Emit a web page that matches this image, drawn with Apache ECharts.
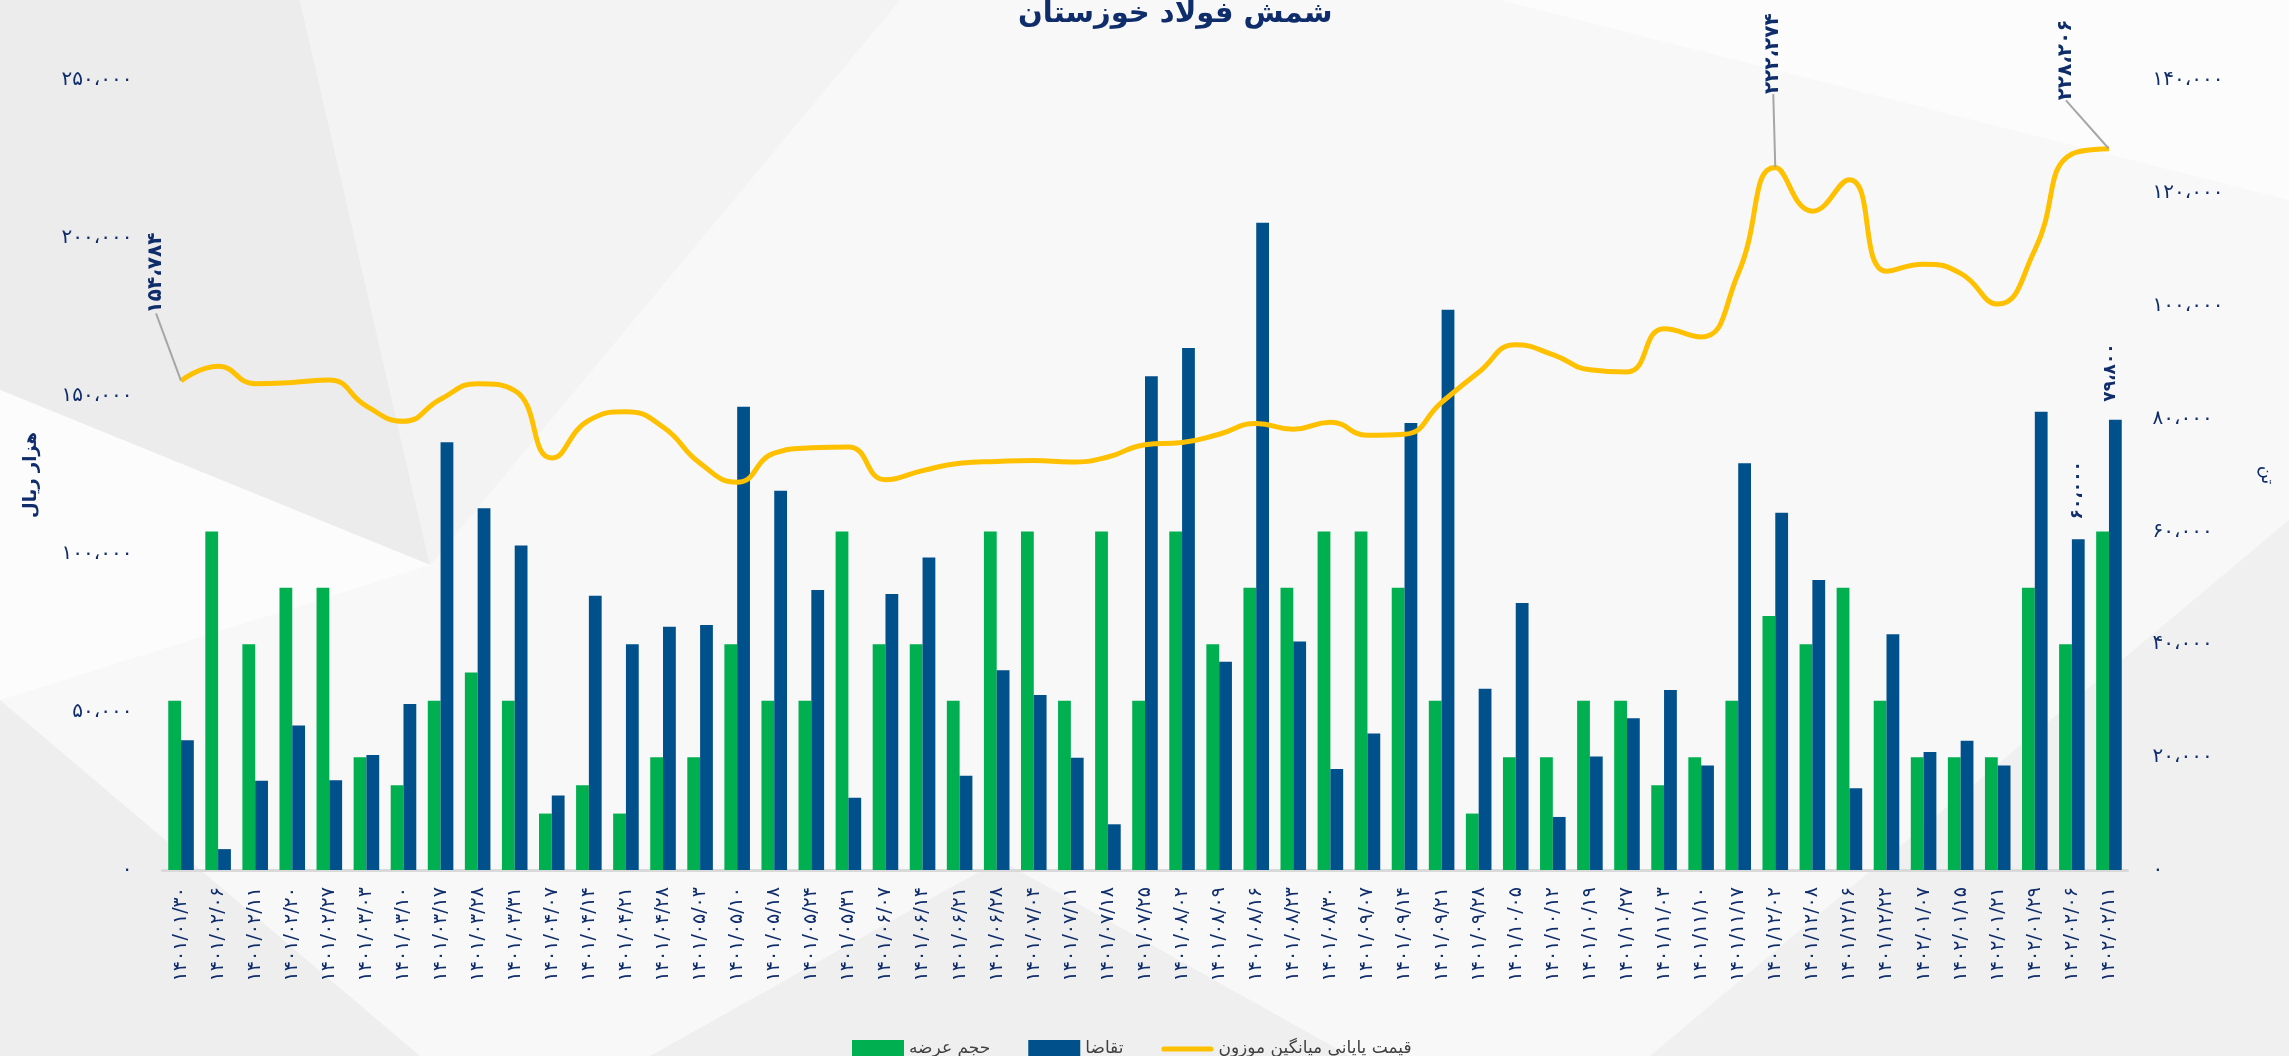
<!DOCTYPE html>
<html>
<head>
<meta charset="utf-8">
<script src="https://cdn.jsdelivr.net/npm/echarts@6/dist/echarts.min.js"></script>
<style>
  html, body { margin: 0; padding: 0; background: #f7f7f7; }
  #chart { width: 2289px; height: 1056px; }
</style>
</head>
<body>
<div id="chart"></div>
<script>
// تاریخ‌های معاملات
const categories = [
  '۱۴۰۱/۰۱/۳۰', '۱۴۰۱/۰۲/۰۶', '۱۴۰۱/۰۲/۱۱', '۱۴۰۱/۰۲/۲۰', '۱۴۰۱/۰۲/۲۷', '۱۴۰۱/۰۳/۰۳',
  '۱۴۰۱/۰۳/۱۰', '۱۴۰۱/۰۳/۱۷', '۱۴۰۱/۰۳/۲۸', '۱۴۰۱/۰۳/۳۱', '۱۴۰۱/۰۴/۰۷', '۱۴۰۱/۰۴/۱۴',
  '۱۴۰۱/۰۴/۲۱', '۱۴۰۱/۰۴/۲۸', '۱۴۰۱/۰۵/۰۳', '۱۴۰۱/۰۵/۱۰', '۱۴۰۱/۰۵/۱۸', '۱۴۰۱/۰۵/۲۴',
  '۱۴۰۱/۰۵/۳۱', '۱۴۰۱/۰۶/۰۷', '۱۴۰۱/۰۶/۱۴', '۱۴۰۱/۰۶/۲۱', '۱۴۰۱/۰۶/۲۸', '۱۴۰۱/۰۷/۰۴',
  '۱۴۰۱/۰۷/۱۱', '۱۴۰۱/۰۷/۱۸', '۱۴۰۱/۰۷/۲۵', '۱۴۰۱/۰۸/۰۲', '۱۴۰۱/۰۸/۰۹', '۱۴۰۱/۰۸/۱۶',
  '۱۴۰۱/۰۸/۲۳', '۱۴۰۱/۰۸/۳۰', '۱۴۰۱/۰۹/۰۷', '۱۴۰۱/۰۹/۱۴', '۱۴۰۱/۰۹/۲۱', '۱۴۰۱/۰۹/۲۸',
  '۱۴۰۱/۱۰/۰۵', '۱۴۰۱/۱۰/۱۲', '۱۴۰۱/۱۰/۱۹', '۱۴۰۱/۱۰/۲۷', '۱۴۰۱/۱۱/۰۳', '۱۴۰۱/۱۱/۱۰',
  '۱۴۰۱/۱۱/۱۷', '۱۴۰۱/۱۲/۰۲', '۱۴۰۱/۱۲/۰۸', '۱۴۰۱/۱۲/۱۶', '۱۴۰۱/۱۲/۲۲', '۱۴۰۲/۰۱/۰۷',
  '۱۴۰۲/۰۱/۱۵', '۱۴۰۲/۰۱/۲۱', '۱۴۰۲/۰۱/۲۹', '۱۴۰۲/۰۲/۰۶', '۱۴۰۲/۰۲/۱۱'
];

// حجم عرضه (تن)
const supply = [
  30000, 60000, 40000, 50000, 50000, 20000, 15000, 30000, 35000, 30000, 10000, 15000,
  10000, 20000, 20000, 40000, 30000, 30000, 60000, 40000, 40000, 30000, 60000, 60000,
  30000, 60000, 30000, 60000, 40000, 50000, 50000, 60000, 60000, 50000, 30000, 10000,
  20000, 20000, 30000, 30000, 15000, 20000, 30000, 45000, 40000, 50000, 30000, 20000,
  20000, 20000, 50000, 40000, 60000
];

// تقاضا (تن)
const demand = [
  23000, 3700, 15800, 25600, 15900, 20400, 29400, 75800, 64100, 57500, 13200, 48600,
  40000, 43100, 43400, 82100, 67200, 49600, 12800, 48900, 55400, 16700, 35400, 31000,
  19900, 8100, 87500, 92500, 36900, 114700, 40500, 17900, 24200, 79200, 99300, 32100,
  47300, 9400, 20100, 26900, 31900, 18500, 72100, 63300, 51400, 14500, 41800, 20900,
  22900, 18500, 81200, 58600, 79800
];

// قیمت پایانی میانگین موزون (هزار ریال)
const price = [
  154784, 159400, 153900, 154300, 155100, 146800, 142000, 149000, 153900, 151700, 130400, 142300,
  145000, 140200, 128700, 122700, 131900, 133600, 133900, 123500, 126400, 128700, 129300, 129600,
  129100, 130700, 134600, 135300, 137900, 141300, 139500, 141700, 137600, 137900, 148000, 157500,
  166200, 163100, 158300, 157600, 171300, 168700, 188800, 222274, 208500, 218400, 189500, 191700,
  188800, 179100, 196200, 226600, 228206
];

// محورها
const priceAxis = { min: 0, max: 250000, interval: 50000 };
const tonAxis = { min: 0, max: 140000, interval: 20000 };

// نقاطی که برچسب دارند
const priceLabelIdx = [0, 43, 52];
const supplyLabelIdx = [52];
const demandLabelIdx = [52];

const NAVY = '#0F2D6B';
const FONT = '"DejaVu Sans", sans-serif';
const faDigits = '۰۱۲۳۴۵۶۷۸۹';

function fa(n) {
  return String(Math.round(n))
    .replace(/\B(?=(\d{3})+(?!\d))/g, '،')
    .replace(/\d/g, (d) => faDigits[d]);
}

function withLabels(values, idx) {
  return values.map((v, i) => (idx.includes(i) ? { value: v, label: { show: true } } : v));
}

// برچسب‌ها ۹۰ درجه چرخیده‌اند و dx/dy در قاب چرخیده اعمال می‌شود:
// جابجایی روی صفحه (sx, sy) => { dx: -sy, dy: sx }
function shift(sx, sy) {
  return { dx: -sy, dy: sx };
}

const chart = echarts.init(document.getElementById('chart'));

const option = {
  animation: false,
  backgroundColor: '#f8f8f8',
  textStyle: { fontFamily: FONT },
  graphic: [
    { type: 'polygon', z: -10, shape: { points: [[0, 0], [300, 0], [430, 565], [0, 390]] }, style: { fill: '#ececec' } },
    { type: 'polygon', z: -10, shape: { points: [[300, 0], [900, 0], [430, 565]] }, style: { fill: '#f3f3f3' } },
    { type: 'polygon', z: -10, shape: { points: [[0, 390], [430, 565], [0, 700]] }, style: { fill: '#fcfcfc' } },
    { type: 'polygon', z: -10, shape: { points: [[0, 700], [420, 1056], [0, 1056]] }, style: { fill: '#eeeeee' } },
    { type: 'polygon', z: -10, shape: { points: [[1000, 860], [1350, 1056], [650, 1056]] }, style: { fill: '#efefef' } },
    { type: 'polygon', z: -10, shape: { points: [[1650, 1056], [2289, 520], [2289, 1056]] }, style: { fill: '#f0f0f0' } },
    { type: 'polygon', z: -10, shape: { points: [[1500, 0], [2289, 0], [2289, 200]] }, style: { fill: '#fcfcfc' } }
  ],
  title: {
    text: 'شمش فولاد خوزستان',
    left: 1013,
    top: -5,
    textStyle: { color: NAVY, fontSize: 29, fontWeight: 'bold', fontFamily: FONT }
  },
  legend: {
    left: 847,
    top: 1035,
    itemWidth: 52,
    itemHeight: 18,
    itemGap: 38,
    textStyle: { color: '#404040', fontSize: 17, fontFamily: FONT },
    data: [
      { name: 'حجم عرضه', icon: 'rect' },
      { name: 'تقاضا', icon: 'rect' },
      { name: 'قیمت پایانی میانگین موزون', icon: 'path://M3,0H57A3,3 0 0 1 57,6H3A3,3 0 0 1 3,0Z' }
    ]
  },
  grid: { left: 162.5, right: 161.5, top: 80, bottom: 186 },
  xAxis: {
    type: 'category',
    data: categories,
    axisTick: { show: false },
    axisLine: { lineStyle: { color: '#d9d9d9', width: 3 } },
    axisLabel: { interval: 0, rotate: 90, margin: 17, color: NAVY, fontSize: 19, fontFamily: FONT }
  },
  yAxis: [
    {
      type: 'value',
      ...priceAxis,
      name: 'هزار ریال',
      nameLocation: 'middle',
      nameRotate: 90,
      nameGap: 122,
      nameTextStyle: { color: NAVY, fontSize: 18, fontWeight: 'bold', fontFamily: FONT },
      splitLine: { show: false },
      axisLine: { show: false },
      axisTick: { show: false },
      axisLabel: { margin: 30, color: NAVY, fontSize: 20, fontFamily: FONT, formatter: fa }
    },
    {
      type: 'value',
      ...tonAxis,
      name: 'تن',
      nameLocation: 'middle',
      nameRotate: -90,
      nameGap: 130,
      nameTextStyle: { color: NAVY, fontSize: 18, fontFamily: FONT },
      splitLine: { show: false },
      axisLine: { show: false },
      axisTick: { show: false },
      axisLabel: { margin: 25, color: NAVY, fontSize: 20, fontFamily: FONT, formatter: fa }
    }
  ],
  series: [
    {
      name: 'حجم عرضه',
      type: 'bar',
      yAxisIndex: 1,
      barGap: '0%',
      barCategoryGap: '31%',
      itemStyle: { color: '#00B050' },
      data: withLabels(supply, supplyLabelIdx),
      label: {
        show: false, position: 'top', rotate: 90, align: 'left', verticalAlign: 'middle', distance: 5,
        color: NAVY, fontSize: 17, fontWeight: 'bold', fontFamily: FONT,
        formatter: (p) => fa(p.value)
      },
      labelLayout: () => shift(-25, -7)
    },
    {
      name: 'تقاضا',
      type: 'bar',
      yAxisIndex: 1,
      itemStyle: { color: '#00508C' },
      data: withLabels(demand, demandLabelIdx),
      label: {
        show: false, position: 'top', rotate: 90, align: 'left', verticalAlign: 'middle', distance: 5,
        color: NAVY, fontSize: 17, fontWeight: 'bold', fontFamily: FONT,
        formatter: (p) => fa(p.value)
      },
      labelLayout: () => shift(-5, -13)
    },
    {
      name: 'قیمت پایانی میانگین موزون',
      type: 'line',
      yAxisIndex: 0,
      smooth: true,
      symbol: 'circle',
      symbolSize: 1,
      showSymbol: true,
      itemStyle: { color: '#FFC000' },
      lineStyle: { color: '#FFC000', width: 5 },
      data: withLabels(price, priceLabelIdx),
      label: {
        show: false, position: 'top', rotate: 90, align: 'left', verticalAlign: 'middle', distance: 5,
        color: NAVY, fontSize: 20, fontWeight: 'bold', fontFamily: FONT,
        formatter: (p) => fa(p.value)
      },
      labelLine: { show: true, lineStyle: { color: '#a6a6a6', width: 2 } },
      labelLayout: (p) => {
        if (p.dataIndex === 0) return shift(-25, -62);
        if (p.dataIndex === 43) return shift(-2, -68);
        return shift(-43, -43);
      }
    }
  ]
};

chart.setOption(option);
window.addEventListener('resize', () => chart.resize());
</script>
</body>
</html>
